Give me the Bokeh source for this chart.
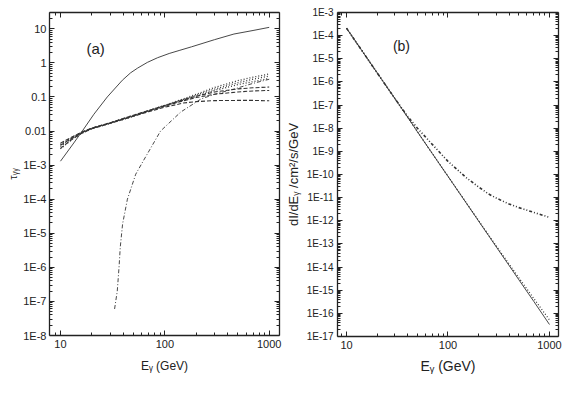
from bokeh.plotting import figure
from bokeh.layouts import row
from bokeh.models import FixedTicker, LogAxis, Label, Range1d
from bokeh.embed import file_html
from bokeh.resources import INLINE

# ---------------- panel (a): optical depth ----------------
E_solid_a = [10, 13, 16.2, 20.9, 28.1, 39.2, 47, 54.8, 68, 85, 110, 137, 180, 222, 300, 459, 700, 1000]
tau_solid = [1.3e-3, 3.9e-3, 0.01, 0.031, 0.10, 0.31, 0.51, 0.70, 1.03, 1.41, 1.88, 2.3, 2.95, 3.6, 4.8, 7.0, 8.9, 11.0]

E_grid_a = [10, 13, 16, 20, 30, 50, 70, 100, 150, 200, 300, 500, 700, 1000]
tau_dash1 = [4.4e-3, 6.8e-3, 9.3e-3, 0.0122, 0.0175, 0.029, 0.040, 0.056, 0.082, 0.105, 0.140, 0.172, 0.185, 0.195]
tau_dash2 = [3.8e-3, 6.3e-3, 9.0e-3, 0.0120, 0.0172, 0.028, 0.039, 0.054, 0.077, 0.096, 0.120, 0.140, 0.150, 0.155]
tau_dash3 = [3.1e-3, 5.8e-3, 8.6e-3, 0.0117, 0.0168, 0.027, 0.037, 0.050, 0.066, 0.073, 0.078, 0.079, 0.079, 0.077]
tau_dot1 = [4.0e-3, 6.6e-3, 9.2e-3, 0.0121, 0.0175, 0.029, 0.040, 0.057, 0.087, 0.120, 0.190, 0.300, 0.380, 0.470]
tau_dot2 = [3.5e-3, 6.2e-3, 8.9e-3, 0.0119, 0.0172, 0.028, 0.039, 0.056, 0.084, 0.112, 0.170, 0.260, 0.330, 0.410]
tau_dot3 = [3.0e-3, 5.8e-3, 8.6e-3, 0.0117, 0.0168, 0.027, 0.038, 0.054, 0.080, 0.104, 0.155, 0.230, 0.280, 0.350]

E_dashdot_a = [33, 35, 36.4, 37.4, 39.4, 43.8, 52.6, 62.8, 91, 142, 222, 300, 459, 700, 1000]
tau_dashdot = [6e-8, 2e-7, 1e-6, 3.9e-6, 1.9e-5, 1e-4, 5.4e-4, 1.4e-3, 0.01, 0.036, 0.087, 0.12, 0.17, 0.25, 0.33]

# ---------------- panel (b): spectra ----------------
E_b = [10, 20, 30, 40, 50, 70, 100, 150, 200, 250, 300, 400, 500, 700, 1000]
I_solid = [2.1e-4, 2.5e-6, 1.9e-7, 3.0e-8, 7.0e-9, 8.1e-10, 8.3e-11, 6.2e-12, 9.8e-13, 2.35e-13,
           7.3e-14, 1.17e-14, 2.8e-15, 3.3e-16, 3.3e-17]
I_dotted = [2.1e-4, 2.5e-6, 1.9e-7, 3.0e-8, 7.0e-9, 8.1e-10, 8.4e-11, 6.4e-12, 1.03e-12, 2.5e-13,
            8.0e-14, 1.35e-14, 3.4e-15, 4.4e-16, 5.2e-17]
I_dashdotdot = [2.1e-4, 2.5e-6, 1.9e-7, 3.3e-8, 1.0e-8, 2.0e-9, 3.7e-10, 7.5e-11, 2.9e-11, 1.45e-11,
                9.5e-12, 5.3e-12, 3.7e-12, 2.3e-12, 1.4e-12]

# ---------------- ticks ----------------
x_major = [10, 100, 1000]
x_labels = ["10", "100", "1000"]
x_minor = [9, 20, 30, 40, 50, 60, 70, 80, 90, 200, 300, 400, 500, 600, 700, 800, 900]

ya_major = [1e-8, 1e-7, 1e-6, 1e-5, 1e-4, 1e-3, 0.01, 0.1, 1, 10]
ya_labels = ["1E-8", "1E-7", "1E-6", "1E-5", "1E-4", "1E-3", "0.01", "0.1", "1", "10"]
ya_minor = [k * m for m in ya_major for k in range(2, 10) if k * m <= 30]

yb_exps = list(range(-17, -2))
yb_major = [10.0 ** e for e in yb_exps]
yb_labels = ["1E%d" % e for e in yb_exps]
yb_minor = [k * m for m in yb_major[:-1] for k in range(2, 10)]

FONT = "Liberation Sans"
INK = "#222222"


def style_axis(ax, ticker, labels=None, size="11px"):
    ax.ticker = ticker
    ax.major_tick_in = 5
    ax.major_tick_out = 0
    ax.minor_tick_in = 3
    ax.minor_tick_out = 0
    ax.axis_line_color = INK
    ax.major_tick_line_color = INK
    ax.minor_tick_line_color = INK
    ax.axis_line_width = 1.3
    ax.major_label_text_font = FONT
    ax.major_label_text_color = INK
    ax.axis_label_text_font = FONT
    ax.axis_label_text_font_style = "normal"
    ax.axis_label_text_color = INK
    if labels is None:
        ax.major_label_overrides = {t: " " for t in ticker.ticks}
        ax.major_label_text_font_size = "1px"
        ax.major_label_standoff = 0
    else:
        ax.major_label_overrides = dict(zip(ticker.ticks, labels))
        ax.major_label_text_font_size = size
        ax.major_label_standoff = 4


def make_fig(xr, yr, fw, fh, bl, br, bt, bb):
    p = figure(x_axis_type="log", y_axis_type="log",
               x_range=Range1d(*xr), y_range=Range1d(*yr),
               frame_width=fw, frame_height=fh,
               min_border_left=bl, min_border_right=br,
               min_border_top=bt, min_border_bottom=bb,
               output_backend="svg", toolbar_location=None)
    p.grid.visible = False
    p.outline_line_color = None
    p.background_fill_color = "white"
    return p


# ---- figure (a)
p1 = make_fig((7.85, 1255), (1e-8, 30), 230, 323, 49, 3, 12, 50)
xt_a = FixedTicker(ticks=x_major, minor_ticks=x_minor)
yt_a = FixedTicker(ticks=ya_major, minor_ticks=ya_minor)
style_axis(p1.xaxis[0], xt_a, x_labels, "11px")
style_axis(p1.yaxis[0], yt_a, ya_labels, "11px")
p1.yaxis[0].major_label_standoff = 3
p1.xaxis[0].axis_label = "E\u1d67 (GeV)"
p1.xaxis[0].axis_label_text_font_size = "12px"
p1.xaxis[0].axis_label_standoff = 8
p1.yaxis[0].axis_label = "\u03c4\u1d67\u1d67"
p1.yaxis[0].axis_label_text_font_size = "11px"
p1.yaxis[0].axis_label_standoff = 1
top1 = LogAxis()
style_axis(top1, FixedTicker(ticks=x_major, minor_ticks=x_minor))
right1 = LogAxis()
style_axis(right1, FixedTicker(ticks=ya_major, minor_ticks=ya_minor))
p1.add_layout(top1, "above")
p1.add_layout(right1, "right")

LC = "#333333"
p1.line(E_solid_a, tau_solid, line_color=LC, line_width=0.9)
for ys in (tau_dash1, tau_dash2, tau_dash3):
    p1.line(E_grid_a, ys, line_color=LC, line_width=1.1, line_dash="4 2")
for ys in (tau_dot1, tau_dot2, tau_dot3):
    p1.line(E_grid_a, ys, line_color=LC, line_width=1.3, line_dash="1 2")
p1.line(E_dashdot_a, tau_dashdot, line_color=LC, line_width=0.9, line_dash="4 2 1 2")
p1.add_layout(Label(x=21.7, y=2.6, text="(a)", text_align="center", text_baseline="middle",
                    text_font=FONT, text_font_size="15px", text_color=INK))

# ---- figure (b)
p2 = make_fig((8.15, 1227), (1e-17, 1e-3), 221, 324, 52, 8, 11, 50)
xt_b = FixedTicker(ticks=x_major, minor_ticks=x_minor)
yt_b = FixedTicker(ticks=yb_major, minor_ticks=yb_minor)
style_axis(p2.xaxis[0], xt_b, x_labels, "11px")
style_axis(p2.yaxis[0], yt_b, yb_labels, "10px")
p2.xaxis[0].axis_label = "E\u1d67 (GeV)"
p2.xaxis[0].axis_label_text_font_size = "14px"
p2.xaxis[0].axis_label_standoff = 6
p2.yaxis[0].axis_label = "dI/dE\u1d67 /cm\u00b2/s/GeV"
p2.yaxis[0].axis_label_text_font_size = "13px"
p2.yaxis[0].axis_label_standoff = 3
top2 = LogAxis()
style_axis(top2, FixedTicker(ticks=x_major, minor_ticks=x_minor))
right2 = LogAxis()
style_axis(right2, FixedTicker(ticks=yb_major, minor_ticks=yb_minor))
p2.add_layout(top2, "above")
p2.add_layout(right2, "right")

p2.line(E_b, I_solid, line_color=LC, line_width=0.9)
p2.line(E_b, I_dotted, line_color=LC, line_width=1.2, line_dash="1 2")
p2.line(E_b, I_dashdotdot, line_color=LC, line_width=1.6, line_dash="3 2 1 2 1 2")
p2.add_layout(Label(x=34.8, y=3.4e-5, text="(b)", text_align="center", text_baseline="middle",
                    text_font=FONT, text_font_size="14px", text_color=INK))

layout = row(p1, p2)
open("out.html", "w").write(file_html(layout, INLINE))
